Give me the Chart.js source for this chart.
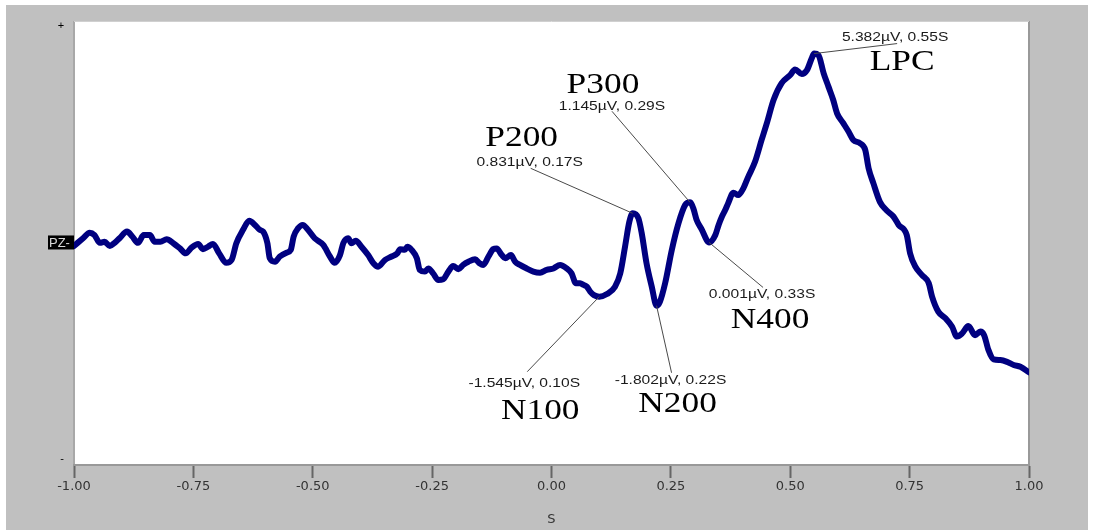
<!DOCTYPE html>
<html>
<head>
<meta charset="utf-8">
<title>PZ ERP</title>
<script src="https://cdn.jsdelivr.net/npm/chart.js@4.4.1/dist/chart.umd.min.js"></script>
<style>
  html, body { margin: 0; padding: 0; background: #ffffff; overflow: hidden; }
  #wrap { position: relative; width: 1094px; height: 530px; }
</style>
</head>
<body>
<div id="wrap"><canvas id="c" width="1094" height="530"></canvas></div>
<script>
// Averaged ERP trace at channel PZ: time (s) and amplitude (µV)
const traceTime = [
  -1.000, -0.981, -0.967, -0.957, -0.946, -0.936, -0.925, -0.915, -0.904, -0.889,
  -0.878, -0.866, -0.854, -0.841, -0.831, -0.819, -0.806, -0.792, -0.778, -0.766,
  -0.754, -0.740, -0.730, -0.719, -0.709, -0.696, -0.681, -0.670, -0.660, -0.646,
  -0.633, -0.621, -0.611, -0.604, -0.595, -0.590, -0.579, -0.569, -0.555, -0.546,
  -0.540, -0.531, -0.521, -0.510, -0.496, -0.478, -0.464, -0.454, -0.443, -0.436,
  -0.426, -0.419, -0.410, -0.398, -0.384, -0.373, -0.363, -0.349, -0.335, -0.323,
  -0.317, -0.307, -0.302, -0.293, -0.282, -0.276, -0.265, -0.258, -0.248, -0.237,
  -0.227, -0.216, -0.206, -0.195, -0.185, -0.174, -0.160, -0.151, -0.143, -0.132,
  -0.122, -0.115, -0.104, -0.097, -0.085, -0.076, -0.066, -0.052, -0.038, -0.024,
  -0.010, 0.004, 0.018, 0.032, 0.042, 0.051, 0.060, 0.067, 0.074, 0.081,
  0.089, 0.116, 0.133, 0.144, 0.154, 0.163, 0.182, 0.189, 0.199, 0.210,
  0.227, 0.238, 0.252, 0.266, 0.280, 0.297, 0.304, 0.315, 0.325, 0.343,
  0.350, 0.357, 0.364, 0.370, 0.381, 0.391, 0.402, 0.412, 0.426, 0.440,
  0.451, 0.465, 0.482, 0.500, 0.510, 0.524, 0.535, 0.545, 0.559, 0.570,
  0.580, 0.590, 0.598, 0.611, 0.622, 0.632, 0.646, 0.657, 0.664, 0.674,
  0.688, 0.702, 0.716, 0.727, 0.744, 0.751, 0.762, 0.776, 0.790, 0.797,
  0.810, 0.825, 0.839, 0.849, 0.860, 0.873, 0.887, 0.898, 0.906, 0.915,
  0.926, 0.940, 0.954, 0.968, 0.982, 1.000
];
const traceUV = [
  -0.10, 0.12, 0.28, 0.21, -0.01, 0.02, -0.10, -0.01, 0.13, 0.31,
  0.17, -0.01, 0.21, 0.21, 0.02, 0.02, 0.09, -0.02, -0.17, -0.31,
  -0.15, -0.04, -0.19, -0.12, -0.04, -0.31, -0.58, -0.50, -0.02, 0.36,
  0.62, 0.50, 0.36, 0.31, -0.02, -0.45, -0.55, -0.40, -0.29, -0.21,
  0.17, 0.40, 0.50, 0.36, 0.12, -0.07, -0.40, -0.58, -0.36, -0.02,
  0.12, -0.02, 0.05, -0.12, -0.36, -0.59, -0.69, -0.50, -0.40, -0.31,
  -0.19, -0.21, -0.12, -0.21, -0.45, -0.78, -0.83, -0.74, -0.88, -1.07,
  -1.05, -0.83, -0.67, -0.76, -0.64, -0.55, -0.48, -0.59, -0.64, -0.40,
  -0.19, -0.17, -0.36, -0.45, -0.36, -0.55, -0.64, -0.74, -0.83, -0.86,
  -0.78, -0.74, -0.64, -0.74, -0.88, -1.16, -1.16, -1.21, -1.26, -1.40,
  -1.50, -1.47, -1.26, -0.88, -0.12, 0.59, 0.69, 0.26, -0.59, -1.26,
  -1.69, -1.16, -0.21, 0.55, 1.07, 0.97, 0.64, 0.36, 0.07, 0.21,
  0.50, 0.74, 0.93, 1.12, 1.42, 1.35, 1.55, 1.87, 2.29, 2.92,
  3.40, 4.06, 4.54, 4.77, 4.93, 4.80, 4.91, 5.25, 5.34, 4.82,
  4.44, 4.06, 3.68, 3.40, 3.16, 2.92, 2.83, 2.64, 2.12, 1.69,
  1.15, 0.91, 0.74, 0.50, 0.21, -0.31, -0.69, -0.93, -1.16, -1.54,
  -1.97, -2.16, -2.40, -2.68, -2.59, -2.38, -2.64, -2.54, -2.64, -3.06,
  -3.33, -3.35, -3.40, -3.49, -3.54, -3.70
];

// Labelled components (latency in s, amplitude in µV)
const peakNames = ['N100', 'P200', 'N200', 'P300', 'N400', 'LPC'];
const peakTimes = [0.10, 0.17, 0.22, 0.29, 0.33, 0.55];
const peakUV = [-1.545, 0.831, -1.802, 1.145, 0.001, 5.382];

const xTickValues = [-1.00, -0.75, -0.50, -0.25, 0.00, 0.25, 0.50, 0.75, 1.00];
const xTitle = 'S';
const channelName = 'PZ';

// Full trace: sampled points plus the labelled component peaks, in time order
const tracePoints = traceTime.map((t, i) => ({ x: t, y: traceUV[i] }))
  .concat(peakTimes.map((t, i) => ({ x: t, y: peakUV[i] })))
  .sort((a, b) => a.x - b.x);

// Label placement relative to each peak (pixels): value text, leader end, component name
const labelLayout = {
  N100: { val: [-75, 87], lead: [-72, 75], name: [-59, 115] },
  P200: { val: [-103, -51], lead: [-102, -45], name: [-111, -75] },
  N200: { val: [14, 75], lead: [15, 67], name: [21, 99] },
  P300: { val: [-78, -96], lead: [-78, -91], name: [-87, -117] },
  N400: { val: [53, 52], lead: [54, 45], name: [61, 78] },
  LPC:  { val: [81, -16], lead: [83, -10], name: [88, 9] }
};

const SANS = 'Arial, "Liberation Sans", Helvetica, sans-serif';
const SERIF = '"Times New Roman", "Liberation Serif", Times, serif';

function stretchedText(ctx, text, x, y, font, sx, color) {
  ctx.save();
  ctx.translate(x, y);
  ctx.scale(sx, 1);
  ctx.font = font;
  ctx.fillStyle = color;
  ctx.textAlign = 'center';
  ctx.textBaseline = 'middle';
  ctx.fillText(text, 0, 0);
  ctx.restore();
}

const framePlugin = {
  id: 'frame',
  beforeDraw(chart) {
    const { ctx, chartArea: a } = chart;
    ctx.save();
    ctx.fillStyle = '#ffffff';
    ctx.fillRect(0, 0, chart.width, chart.height);
    ctx.fillStyle = '#c0c0c0';
    ctx.fillRect(6, 5, 1082, chart.height - 5);
    ctx.fillStyle = '#ffffff';
    ctx.fillRect(a.left, a.top, a.right - a.left, a.bottom - a.top);
    // plot frame
    ctx.strokeStyle = '#a8a8a8';
    ctx.lineWidth = 2;
    ctx.beginPath();
    ctx.moveTo(a.left, a.top);
    ctx.lineTo(a.left, a.bottom);
    ctx.stroke();
    ctx.strokeStyle = '#999999';
    ctx.beginPath();
    ctx.moveTo(a.right, a.top);
    ctx.lineTo(a.right, a.bottom);
    ctx.stroke();
    ctx.strokeStyle = '#d0d0d0';
    ctx.lineWidth = 1;
    ctx.beginPath();
    ctx.moveTo(a.left, a.top + 0.5);
    ctx.lineTo(a.right, a.top + 0.5);
    ctx.stroke();
    ctx.restore();
  },
  afterDatasetsDraw(chart) {
    const { ctx, chartArea: a, scales: { x, y } } = chart;
    ctx.save();
    // polarity markers
    ctx.fillStyle = '#000000';
    ctx.font = '11px ' + SANS;
    ctx.textAlign = 'center';
    ctx.textBaseline = 'middle';
    ctx.fillText('+', 61, a.top + 5);
    ctx.fillText('-', 62, a.bottom - 6);
    // channel tag at the zero line
    const y0 = y.getPixelForValue(0);
    ctx.fillStyle = '#000000';
    ctx.fillRect(48, y0 - 7, a.left - 48, 14);
    ctx.fillStyle = '#d8d8d8';
    ctx.font = '13px ' + SANS;
    ctx.textAlign = 'left';
    ctx.fillText(channelName + '-', 49, y0 + 0.5);

    // component labels
    peakNames.forEach((name, i) => {
      const px = x.getPixelForValue(peakTimes[i]);
      const py = y.getPixelForValue(peakUV[i]);
      const L = labelLayout[name];
      ctx.strokeStyle = '#4a4a4a';
      ctx.lineWidth = 1;
      ctx.beginPath();
      ctx.moveTo(px, py);
      ctx.lineTo(px + L.lead[0], py + L.lead[1]);
      ctx.stroke();
      const valText = peakUV[i].toFixed(3) + 'µV, ' + peakTimes[i].toFixed(2) + 'S';
      stretchedText(ctx, valText, px + L.val[0], py + L.val[1], '13px ' + SANS, 1.2, '#1a1a1a');
      stretchedText(ctx, name, px + L.name[0], py + L.name[1], '29px ' + SERIF, 1.22, '#000000');
    });
    ctx.restore();
  }
};

new Chart(document.getElementById('c'), {
  type: 'line',
  data: {
    datasets: [{
      label: channelName,
      data: tracePoints,
      borderColor: '#000080',
      borderWidth: 6,
      pointRadius: 0,
      cubicInterpolationMode: 'monotone',
      borderJoinStyle: 'round',
      borderCapStyle: 'round',
      fill: false
    }]
  },
  options: {
    responsive: false,
    animation: false,
    devicePixelRatio: 1,
    layout: { padding: { left: 74, right: 65, top: 21, bottom: 0 } },
    plugins: { legend: { display: false }, tooltip: { enabled: false } },
    scales: {
      x: {
        type: 'linear',
        min: -1,
        max: 1,
        afterBuildTicks(scale) { scale.ticks = xTickValues.map(v => ({ value: v })); },
        afterFit(scale) { scale.height = 65; },
        ticks: {
          callback: v => Number(v).toFixed(2),
          font: { family: 'DejaVu Sans', size: 13 },
          color: '#333333',
          padding: 1,
          maxRotation: 0,
          autoSkip: false
        },
        grid: { drawOnChartArea: false, tickLength: 13, tickColor: '#666666', tickWidth: 2 },
        border: { color: '#999999', width: 2 },
        title: {
          display: true,
          text: xTitle,
          font: { family: 'DejaVu Sans', size: 13 },
          color: '#333333',
          padding: { top: 0, bottom: 3 }
        }
      },
      y: { display: false, min: -6.34, max: 6.31 }
    }
  },
  plugins: [framePlugin]
});
</script>
</body>
</html>
